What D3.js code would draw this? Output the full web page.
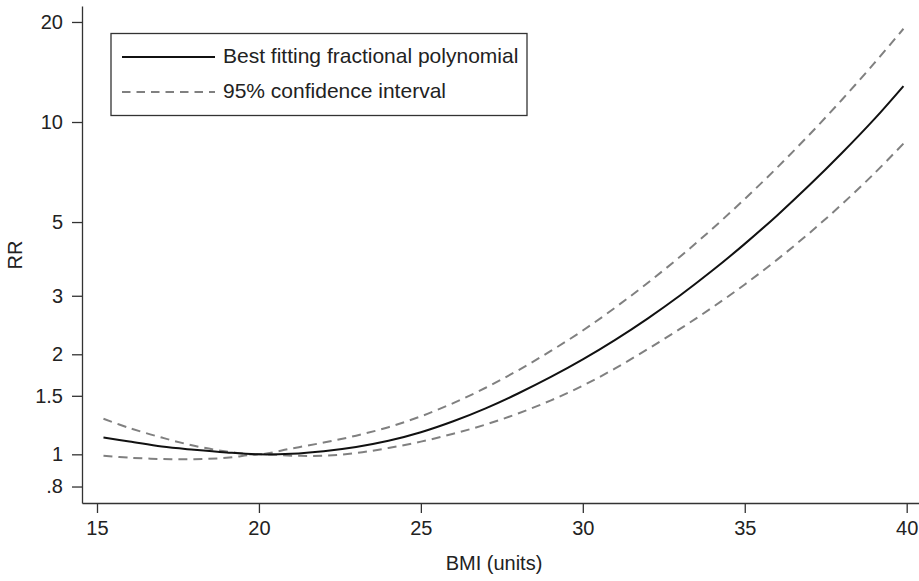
<!DOCTYPE html>
<html lang="en">
<head>
    <meta charset="UTF-8">
    <title>RR by BMI</title>
    <script src="https://d3js.org/d3.v7.min.js"></script>
    <style>
        body { margin: 0; background: white; }
        text {
            font-family: 'Liberation Sans', Arial, sans-serif;
            fill: #222;
        }
        .axis path, .axis line {
            stroke: #333;
            stroke-width: 1.3;
        }
        .axis text {
            font-size: 20px;
        }
    </style>
</head>
<body>
<script>

    const width = 919;
    const height = 581;

    // BMI (units) at which the curves were read
    const bmi = [15.2, 16, 17, 18, 19, 20, 21, 22, 23, 24, 25, 26, 27, 28, 29, 30,
                 31, 32, 33, 34, 35, 36, 37, 38, 39, 39.9];
    // best fitting fractional polynomial
    const rrFit = [1.123, 1.093, 1.055, 1.032, 1.013, 1.0, 1.004, 1.022, 1.052, 1.098, 1.165, 1.257,
                   1.375, 1.524, 1.706, 1.930, 2.210, 2.561, 3.005, 3.572, 4.298, 5.236, 6.459,
                   8.066, 10.20, 12.83];
    // 95% confidence interval, upper
    const rrUpper = [1.279, 1.200, 1.123, 1.061, 1.020, 1.0, 1.041, 1.085, 1.138, 1.207, 1.301, 1.426,
                     1.586, 1.789, 2.043, 2.358, 2.764, 3.278, 3.931, 4.774, 5.866, 7.291, 9.170,
                     11.67, 15.03, 19.08];
    // 95% confidence interval, lower
    const rrLower = [0.990, 0.977, 0.968, 0.967, 0.976, 1.0, 0.991, 0.990, 1.009, 1.045, 1.092, 1.153,
                     1.229, 1.327, 1.451, 1.609, 1.814, 2.072, 2.384, 2.767, 3.245, 3.854, 4.637,
                     5.657, 7.004, 8.610];

    const xTicks = [15, 20, 25, 30, 35, 40];
    const yTicks = [0.8, 1, 1.5, 2, 3, 5, 10, 20];
    const yTickLabels = ['.8', '1', '1.5', '2', '3', '5', '10', '20'];

    const legendLabels = ['Best fitting fractional polynomial', '95% confidence interval'];

    const x = d3.scaleLinear().domain([14.537, 40.38]).range([82, 919]);
    const y = d3.scaleLog().domain([0.7137, 22.34]).range([503, 6]);

    const svg = d3.select("body").append("svg").attr("width", width).attr("height", height);

    svg.append("g").attr("class", "axis")
            .attr("transform", "translate(0,503)")
            .call(d3.axisBottom(x).tickValues(xTicks).tickSize(10).tickSizeOuter(0).tickPadding(8))
            .call(g => g.selectAll("text").attr("fill", "#222"));

    svg.append("g").attr("class", "axis")
            .attr("transform", "translate(82,0)")
            .call(d3.axisLeft(y).tickValues(yTicks).tickSize(10).tickSizeOuter(0).tickPadding(9)
                    .tickFormat((d, i) => yTickLabels[i]))
            .call(g => g.selectAll("text").attr("fill", "#222"));

    svg.append("text")
            .attr("x", 494).attr("y", 565)
            .attr("text-anchor", "middle")
            .attr("dominant-baseline", "middle")
            .style("font-size", "20px")
            .text("BMI (units)");

    svg.append("text")
            .attr("transform", "translate(17,255) rotate(-90)")
            .attr("text-anchor", "middle")
            .attr("dominant-baseline", "middle")
            .style("font-size", "20px")
            .text("RR");

    const line = values => d3.line()
            .x((d, i) => x(bmi[i]))
            .y(d => y(d))
            .curve(d3.curveCatmullRom.alpha(0.5))(values);

    svg.append("path").attr("d", line(rrUpper))
            .attr("fill", "none").attr("stroke", "#808080").attr("stroke-width", 2)
            .attr("stroke-dasharray", "9,6");
    svg.append("path").attr("d", line(rrLower))
            .attr("fill", "none").attr("stroke", "#808080").attr("stroke-width", 2)
            .attr("stroke-dasharray", "9,6");
    svg.append("path").attr("d", line(rrFit))
            .attr("fill", "none").attr("stroke", "#111").attr("stroke-width", 2);

    // legend
    const legend = svg.append("g");
    legend.append("rect")
            .attr("x", 111).attr("y", 33.5).attr("width", 416).attr("height", 82)
            .attr("fill", "white").attr("stroke", "#333").attr("stroke-width", 1.3);

    const legendStyles = [
        {stroke: "#111", dash: null, y: 57},
        {stroke: "#808080", dash: "8.5,6", y: 92}
    ];
    legendStyles.forEach((s, i) => {
        legend.append("line")
                .attr("x1", 122).attr("x2", 215).attr("y1", s.y).attr("y2", s.y)
                .attr("stroke", s.stroke).attr("stroke-width", 2)
                .attr("stroke-dasharray", s.dash);
        legend.append("text")
                .attr("x", 223).attr("y", s.y)
                .attr("dominant-baseline", "middle")
                .style("font-size", "21px")
                .text(legendLabels[i]);
    });

</script>
</body>
</html>
